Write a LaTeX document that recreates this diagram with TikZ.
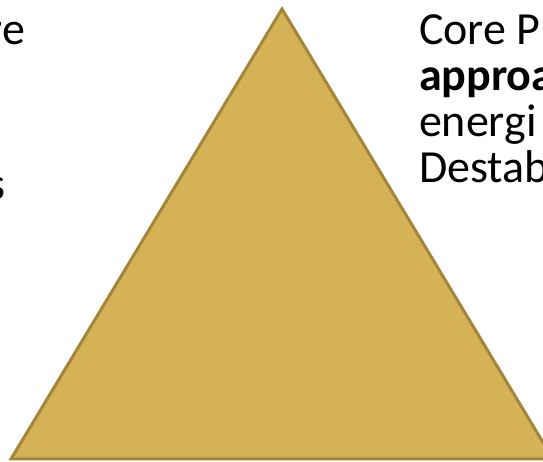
\documentclass[tikz,border=0pt]{standalone}
\usepackage{fontspec}
\setmainfont{Carlito}
\definecolor{goldfill}{HTML}{D6B256}
\definecolor{goldline}{HTML}{A4863A}
\begin{document}
\begin{tikzpicture}[x=1pt,y=1pt,
  txt/.style={inner sep=0pt,outer sep=0pt,font=\fontsize{46}{46}\selectfont,text=black},
  tri/.style={fill=goldfill,draw=goldline,line width=3pt,line join=miter}]
\useasboundingbox (0,0) rectangle (543,462);
\clip (0,0) rectangle (543,462);
\fill[white] (0,0) rectangle (543,462);
\draw[tri] (282,453) -- (553,3) -- (11,3) -- cycle;
\node[txt,anchor=base east] (l1) at (25,417) {re};
\node[txt,anchor=base east] (l4) at (5,262) {s};
\node[txt,anchor=base west] (r1) at (419,417) {Core P};
\node[txt,anchor=base west,font=\fontsize{46}{46}\selectfont\bfseries] (r2) at (419,371) {approa};
\node[txt,anchor=base west] (r3) at (419,325) {energi};
\node[txt,anchor=base west] (r4) at (419,279) {Destab};
\end{tikzpicture}
\end{document}
